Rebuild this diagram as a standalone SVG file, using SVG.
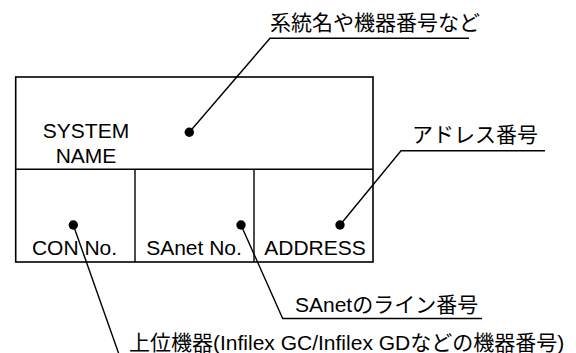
<svg xmlns="http://www.w3.org/2000/svg" width="576" height="353" viewBox="0 0 576 353">
<style>
.t{font-family:"Liberation Sans","Noto Sans CJK JP",Arial,sans-serif;font-size:21px;fill:#000}
.m{text-anchor:middle}
.box{fill:#fff;stroke:#000;stroke-width:1.6}
.ln{fill:none;stroke:#000;stroke-width:1.4}
.dot{fill:#000}
</style>
<rect width="576" height="353" fill="#fff"/>
<g id="box">
<rect class="box" x="15.7" y="77" width="357.3" height="185"/>
<line class="ln" x1="15.7" y1="169.3" x2="373" y2="169.3" stroke-width="1.6"/>
<line class="ln" x1="135" y1="169.3" x2="135" y2="262" stroke-width="1.6"/>
<line class="ln" x1="254" y1="169.3" x2="254" y2="262" stroke-width="1.6"/>
</g>
<g id="system-name">
<text class="t m" x="86" y="137.7">SYSTEM</text>
<text class="t m" x="86" y="163.3">NAME</text>
</g>
<g id="con-no"><text class="t m" x="74.5" y="255">CON No.</text></g>
<g id="sanet-no"><text class="t m" x="194" y="255">SAnet No.</text></g>
<g id="address"><text class="t m" x="315" y="255">ADDRESS</text></g>
<g id="label-system"><text class="t" x="270" y="30">系統名や機器番号など</text></g>
<g id="label-address"><text class="t" x="412" y="142">アドレス番号</text></g>
<g id="label-sanet"><text class="t" x="295" y="311.7">SAnetのライン番号</text></g>
<g id="label-con"><text class="t" x="129" y="350">上位機器(Infilex GC/Infilex GDなどの機器番号)</text></g>
<g id="connectors">
<polyline class="ln" points="189.3,132.3 270,38.3 469,38.3"/>
<polyline class="ln" points="340,225 401,150.7 545,150.7"/>
<polyline class="ln" points="241,225 282.7,318.5 482,318.5"/>
<polyline class="ln" points="73.3,225 121,360"/>
<circle class="dot" cx="189.3" cy="132.3" r="4.7"/>
<circle class="dot" cx="340" cy="225" r="4.7"/>
<circle class="dot" cx="241" cy="225" r="4.7"/>
<circle class="dot" cx="73.3" cy="225" r="4.7"/>
</g>
</svg>
